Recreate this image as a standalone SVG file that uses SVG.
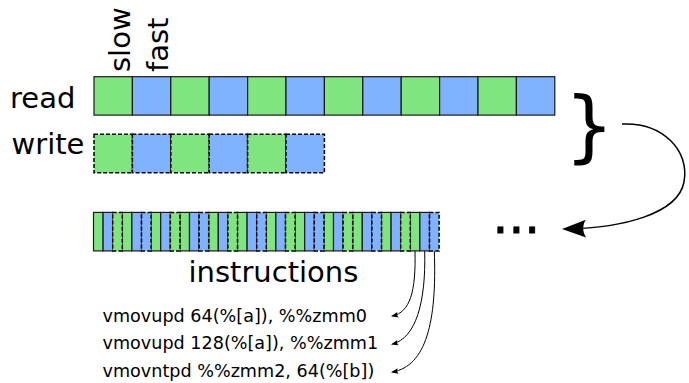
<svg xmlns="http://www.w3.org/2000/svg" width="689" height="383" viewBox="0 0 689 383">
<style>
.g{fill:#80e57f}
.b{fill:#80b3ff}
.s{stroke:#1a1a1a;stroke-width:1.2}
.d{stroke:#000;stroke-width:1.5;stroke-dasharray:4 2}
.t{font-family:"DejaVu Sans",sans-serif;fill:#000}
.big{font-size:29px}
.sm{font-size:17.6px}
.ln{fill:none;stroke:#000}
</style>
<defs>
<marker id="ab" markerUnits="userSpaceOnUse" orient="auto" overflow="visible" refX="0" refY="0" markerWidth="30" markerHeight="30">
<path d="M-19,8.8 L5,0 L-19,-8.8 C-15.3,-3.6 -15.4,3.6 -19,8.8 Z" fill="#000"/>
</marker>
<marker id="as" markerUnits="userSpaceOnUse" orient="auto" overflow="visible" refX="0" refY="0" markerWidth="10" markerHeight="10">
<path d="M-5.7,2.8 L1.6,0 L-5.7,-2.8 C-4.5,-1.1 -4.5,1.1 -5.7,2.8 Z" fill="#000"/>
</marker>
</defs>
<rect width="689" height="383" fill="#fff"/>

<g id="label-slow"><text class="t big" transform="translate(130,72) rotate(-90)">slow</text></g>
<g id="label-fast"><text class="t big" transform="translate(167.5,72) rotate(-90)">fast</text></g>
<g id="label-read"><text class="t big" x="10" y="107.5">read</text></g>
<g id="label-write"><text class="t big" x="11.5" y="153.5">write</text></g>

<g id="read-row">
<rect class="g s" x="94" y="76.7" width="38.4" height="38.4"/>
<rect class="b s" x="132.4" y="76.7" width="38.4" height="38.4"/>
<rect class="g s" x="170.8" y="76.7" width="38.4" height="38.4"/>
<rect class="b s" x="209.2" y="76.7" width="38.4" height="38.4"/>
<rect class="g s" x="247.6" y="76.7" width="38.4" height="38.4"/>
<rect class="b s" x="286" y="76.7" width="38.4" height="38.4"/>
<rect class="g s" x="324.4" y="76.7" width="38.4" height="38.4"/>
<rect class="b s" x="362.8" y="76.7" width="38.4" height="38.4"/>
<rect class="g s" x="401.2" y="76.7" width="38.4" height="38.4"/>
<rect class="b s" x="439.6" y="76.7" width="38.4" height="38.4"/>
<rect class="g s" x="478" y="76.7" width="38.4" height="38.4"/>
<rect class="b s" x="516.4" y="76.7" width="38.4" height="38.4"/>
</g>

<g id="write-row">
<rect class="g d" x="94" y="134.3" width="38.4" height="38.4"/>
<rect class="b d" x="132.4" y="134.3" width="38.4" height="38.4"/>
<rect class="g d" x="170.8" y="134.3" width="38.4" height="38.4"/>
<rect class="b d" x="209.2" y="134.3" width="38.4" height="38.4"/>
<rect class="g d" x="247.6" y="134.3" width="38.4" height="38.4"/>
<rect class="b d" x="286" y="134.3" width="38.4" height="38.4"/>
</g>

<g id="brace"><text class="t" style="font-size:78px" x="564.5" y="153">}</text></g>

<g id="instructions-bar">
<rect class="g s" x="93.5" y="212.4" width="9.6" height="38.5"/>
<rect class="b s" x="103.1" y="212.4" width="9.6" height="38.5"/>
<rect class="g s" x="122.3" y="212.4" width="9.6" height="38.5"/>
<rect class="b s" x="131.9" y="212.4" width="9.6" height="38.5"/>
<rect class="g s" x="151.1" y="212.4" width="9.6" height="38.5"/>
<rect class="b s" x="160.7" y="212.4" width="9.6" height="38.5"/>
<rect class="g s" x="179.9" y="212.4" width="9.6" height="38.5"/>
<rect class="b s" x="189.5" y="212.4" width="9.6" height="38.5"/>
<rect class="g s" x="208.7" y="212.4" width="9.6" height="38.5"/>
<rect class="b s" x="218.3" y="212.4" width="9.6" height="38.5"/>
<rect class="g s" x="237.5" y="212.4" width="9.6" height="38.5"/>
<rect class="b s" x="247.1" y="212.4" width="9.6" height="38.5"/>
<rect class="g s" x="266.3" y="212.4" width="9.6" height="38.5"/>
<rect class="b s" x="275.9" y="212.4" width="9.6" height="38.5"/>
<rect class="g s" x="295.1" y="212.4" width="9.6" height="38.5"/>
<rect class="b s" x="304.7" y="212.4" width="9.6" height="38.5"/>
<rect class="g s" x="323.9" y="212.4" width="9.6" height="38.5"/>
<rect class="b s" x="333.5" y="212.4" width="9.6" height="38.5"/>
<rect class="g s" x="352.7" y="212.4" width="9.6" height="38.5"/>
<rect class="b s" x="362.3" y="212.4" width="9.6" height="38.5"/>
<rect class="g s" x="381.5" y="212.4" width="9.6" height="38.5"/>
<rect class="b s" x="391.1" y="212.4" width="9.6" height="38.5"/>
<rect class="g s" x="410.3" y="212.4" width="9.6" height="38.5"/>
<rect class="b s" x="419.9" y="212.4" width="9.6" height="38.5"/>
<rect class="g d" x="112.7" y="212.4" width="9.6" height="38.5"/>
<rect class="b d" x="141.5" y="212.4" width="9.6" height="38.5"/>
<rect class="g d" x="170.3" y="212.4" width="9.6" height="38.5"/>
<rect class="b d" x="199.1" y="212.4" width="9.6" height="38.5"/>
<rect class="g d" x="227.9" y="212.4" width="9.6" height="38.5"/>
<rect class="b d" x="256.7" y="212.4" width="9.6" height="38.5"/>
<rect class="g d" x="285.5" y="212.4" width="9.6" height="38.5"/>
<rect class="b d" x="314.3" y="212.4" width="9.6" height="38.5"/>
<rect class="g d" x="343.1" y="212.4" width="9.6" height="38.5"/>
<rect class="b d" x="371.9" y="212.4" width="9.6" height="38.5"/>
<rect class="g d" x="400.7" y="212.4" width="9.6" height="38.5"/>
<rect class="b d" x="429.5" y="212.4" width="9.6" height="38.5"/>
</g>

<g id="label-instructions"><text class="t big" x="188.5" y="281.5">instructions</text></g>
<g id="ellipsis"><text class="t" style="font-size:50px;stroke:#000;stroke-width:0.8" x="492.5" y="233">...</text></g>

<g id="instr-1"><text class="t sm" x="102.5" y="321.5">vmovupd 64(%[a]), %%zmm0</text></g>
<g id="instr-2"><text class="t sm" x="102.5" y="349">vmovupd 128(%[a]), %%zmm1</text></g>
<g id="instr-3"><text class="t sm" x="102.5" y="376.5">vmovntpd %%zmm2, 64(%[b])</text></g>

<g id="connectors">
<path class="ln" style="stroke-width:1.5" marker-end="url(#ab)" d="M622,124 C662,122 690,150 684,182 C678,214 622,228 567,229"/>
<path class="ln" style="stroke-width:1" marker-end="url(#as)" d="M415,251 C416,292 410,312 392.5,316"/>
<path class="ln" style="stroke-width:1" marker-end="url(#as)" d="M424.7,251 C426,302 416,338 392.5,344"/>
<path class="ln" style="stroke-width:1" marker-end="url(#as)" d="M434.3,251 C437,322 426,366 392.5,372"/>
</g>
</svg>
